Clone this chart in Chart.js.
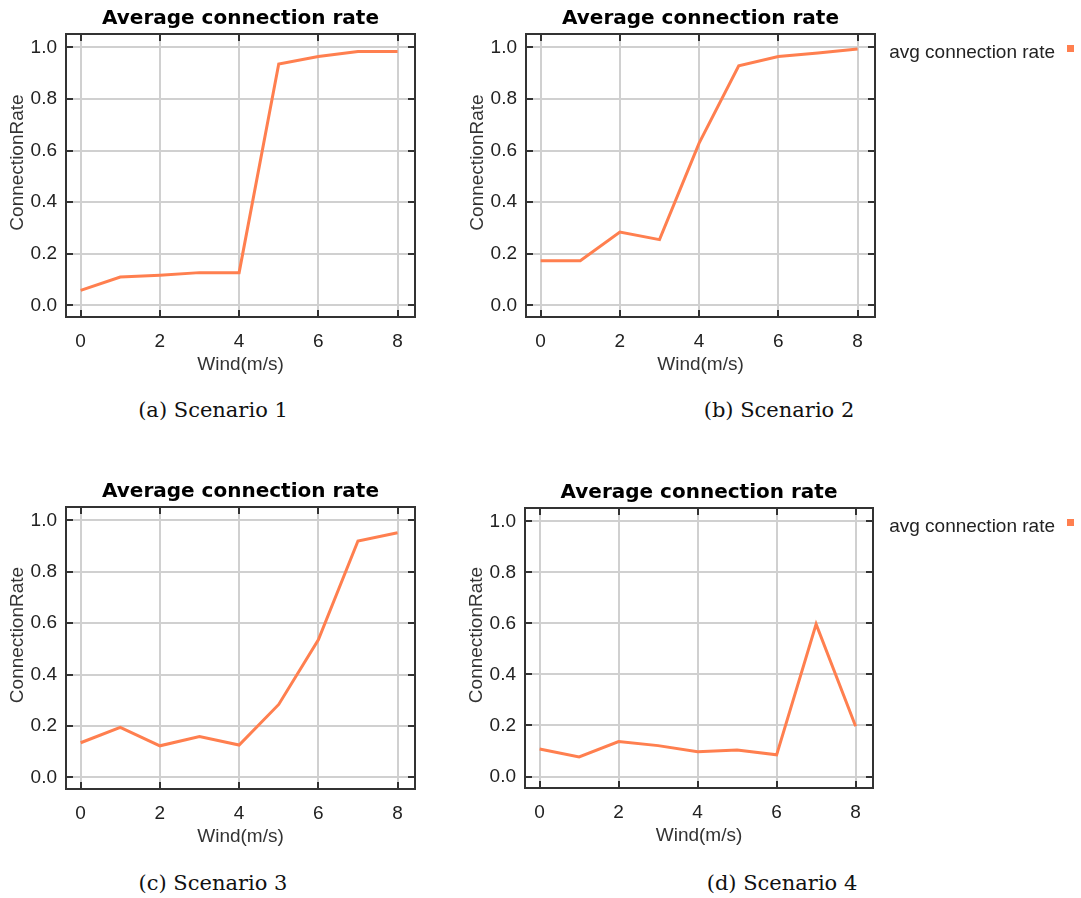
<!DOCTYPE html>
<html>
<head>
<meta charset="utf-8">
<title>Average connection rate</title>
<script src="https://cdn.jsdelivr.net/npm/chart.js@4.4.1/dist/chart.umd.min.js"></script>
<style>
  html, body { margin: 0; padding: 0; background: #fff; }
  body { width: 1081px; height: 898px; position: relative; overflow: hidden; }
  canvas { position: absolute; }
  .caption {
    position: absolute;
    width: 300px;
    text-align: center;
    font-family: "DejaVu Serif", "Liberation Serif", serif;
    font-size: 21px;
    line-height: 24px;
    color: #111;
  }
</style>
</head>
<body>
<canvas id="chartA" width="430" height="384" style="left:0px;top:0px"></canvas>
<canvas id="chartB" width="621" height="384" style="left:460px;top:0px"></canvas>
<canvas id="chartC" width="430" height="383" style="left:0px;top:473px"></canvas>
<canvas id="chartD" width="622" height="381" style="left:459px;top:474px"></canvas>

<div class="caption" style="left:63px;top:398px">(a) Scenario 1</div>
<div class="caption" style="left:629px;top:398px">(b) Scenario 2</div>
<div class="caption" style="left:63px;top:871px">(c) Scenario 3</div>
<div class="caption" style="left:632px;top:871px">(d) Scenario 4</div>

<script>
// wind speeds on the x axis and the average connection rate per scenario
const windSpeeds = [0, 1, 2, 3, 4, 5, 6, 7, 8];
const scenario1 = [0.058, 0.110, 0.117, 0.127, 0.127, 0.936, 0.965, 0.984, 0.984];
const scenario2 = [0.173, 0.173, 0.284, 0.255, 0.629, 0.929, 0.965, 0.978, 0.994];
const scenario3 = [0.135, 0.195, 0.123, 0.159, 0.126, 0.284, 0.535, 0.920, 0.952];
const scenario4 = [0.108, 0.077, 0.137, 0.121, 0.097, 0.104, 0.085, 0.597, 0.197];

const xTicks = [0, 2, 4, 6, 8];
const yTicks = [0.0, 0.2, 0.4, 0.6, 0.8, 1.0];

const LINE_COLOR = '#ff7f4f';
const GRID_COLOR = '#d0d0d0';
const FRAME_COLOR = '#333333';
const LABEL_FONT = "19px 'Liberation Sans', Arial, sans-serif";

Chart.defaults.font.family = "'Liberation Sans', Arial, sans-serif";
Chart.defaults.font.size = 19;
Chart.defaults.color = '#222';

// box around the plot with short ticks on the inside of all four edges
const plotFrame = {
    id: 'plotFrame',
    beforeDatasetsDraw(chart) {
        const {ctx, chartArea: a, scales: {x, y}} = chart;
        const len = 7;
        ctx.save();
        ctx.strokeStyle = FRAME_COLOR;
        ctx.lineWidth = 2;
        ctx.beginPath();
        yTicks.forEach(v => {
            const py = Math.round(y.getPixelForValue(v));
            ctx.moveTo(a.left, py); ctx.lineTo(a.left + len, py);
            ctx.moveTo(a.right - len, py); ctx.lineTo(a.right, py);
        });
        xTicks.forEach(v => {
            const px = Math.round(x.getPixelForValue(v));
            ctx.moveTo(px, a.bottom); ctx.lineTo(px, a.bottom - len);
            ctx.moveTo(px, a.top); ctx.lineTo(px, a.top + len);
        });
        ctx.stroke();
        ctx.strokeRect(a.left, a.top, a.right - a.left, a.bottom - a.top);
        ctx.restore();
    }
};

// rotated y axis title (sits a little above the middle of the plot)
// and, when asked for, the series key at the top right
const sideLabels = {
    id: 'sideLabels',
    afterDraw(chart, args, opts) {
        const {ctx, chartArea: a} = chart;
        ctx.save();
        ctx.font = LABEL_FONT;

        ctx.fillStyle = '#333';
        ctx.textAlign = 'center';
        ctx.textBaseline = 'middle';
        ctx.translate(18, (a.top + a.bottom) / 2 - 13);
        ctx.rotate(-Math.PI / 2);
        ctx.fillText(opts.yTitle, 0, 0);
        ctx.setTransform(1, 0, 0, 1, 0, 0);

        if (opts.showKey) {
            const ds = chart.data.datasets[0];
            const boxRight = chart.width - 7;
            ctx.fillStyle = ds.borderColor;
            ctx.fillRect(boxRight - 7, a.top + 11, 7, 7);
            ctx.fillStyle = '#222';
            ctx.textAlign = 'right';
            ctx.fillText(ds.label, boxRight - 19, a.top + 19);
        }
        ctx.restore();
    }
};

function makeChart(canvasId, values, showKey, padRight) {
    const ctx = document.getElementById(canvasId).getContext('2d');
    return new Chart(ctx, {
        type: 'line',
        data: {
            datasets: [{
                label: 'avg connection rate',
                data: windSpeeds.map((w, i) => ({x: w, y: values[i]})),
                borderColor: LINE_COLOR,
                backgroundColor: LINE_COLOR,
                borderWidth: 3,
                pointRadius: 0,
                tension: 0,
                fill: false
            }]
        },
        options: {
            responsive: false,
            animation: false,
            layout: { padding: { left: 0, right: padRight, top: 0, bottom: 0 } },
            scales: {
                x: {
                    type: 'linear',
                    min: -0.37,
                    max: 8.44,
                    afterBuildTicks: scale => { scale.ticks = xTicks.map(v => ({value: v})); },
                    afterFit: scale => { scale.height = 67; },
                    grid: { color: GRID_COLOR, lineWidth: 2, drawTicks: false },
                    border: { display: false },
                    ticks: { padding: 13, maxRotation: 0, color: '#222' },
                    title: {
                        display: true,
                        text: 'Wind(m/s)',
                        color: '#333',
                        padding: { top: 0, bottom: 8 }
                    }
                },
                y: {
                    min: -0.045,
                    max: 1.052,
                    afterBuildTicks: scale => { scale.ticks = yTicks.map(v => ({value: v})); },
                    afterFit: scale => { scale.width = 66; },
                    grid: { color: GRID_COLOR, lineWidth: 2, drawTicks: false },
                    border: { display: false },
                    ticks: {
                        padding: 9,
                        color: '#222',
                        callback: v => Number(v).toFixed(1)
                    },
                    title: { display: false }
                }
            },
            plugins: {
                title: {
                    display: true,
                    text: 'Average connection rate',
                    fullSize: false,
                    color: '#000',
                    font: { family: "'DejaVu Sans', sans-serif", weight: 'bold', size: 20 },
                    padding: { top: 7, bottom: 3 }
                },
                legend: { display: false },
                tooltip: { enabled: false },
                sideLabels: { yTitle: 'ConnectionRate', showKey: showKey }
            }
        },
        plugins: [plotFrame, sideLabels]
    });
}

makeChart('chartA', scenario1, false, 15);
makeChart('chartB', scenario2, true, 206);
makeChart('chartC', scenario3, false, 15);
makeChart('chartD', scenario4, true, 208);
</script>
</body>
</html>
